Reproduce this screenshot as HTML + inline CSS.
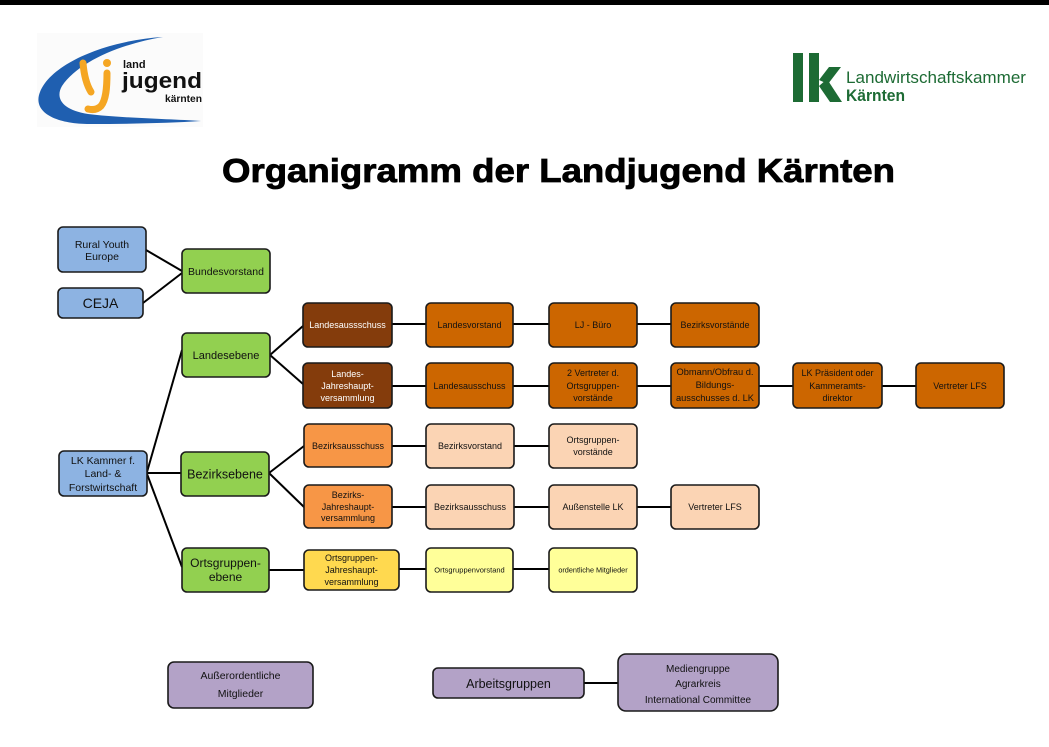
<!DOCTYPE html>
<html>
<head>
<meta charset="utf-8">
<style>
html,body{margin:0;padding:0;background:#fff;}
svg{display:block;}
text{font-family:"Liberation Sans","DejaVu Sans",sans-serif;}
</style>
</head>
<body>
<svg width="1049" height="747" viewBox="0 0 1049 747" xmlns="http://www.w3.org/2000/svg">
<rect x="0" y="0" width="1049" height="747" fill="#fff"/>
<rect x="0" y="0" width="1049" height="5" fill="#000"/>

<!-- Left logo -->
<rect x="37" y="33" width="166" height="94" fill="#fbfbfb"/>
<path d="M163,37 C110,40 52,62 40,92 C32,112 55,124 90,124 C130,124 170,123 201,121 C170,119 120,118 88,114 C62,110 55,98 62,86 C78,62 120,44 163,37 Z" fill="#1f5fb0"/>
<path d="M83,63 C84,75 86,84 91,92" stroke="#f5a623" stroke-width="7" stroke-linecap="round" fill="none"/>
<circle cx="107" cy="63" r="4" fill="#f5a623"/>
<path d="M107,73 C107,88 106,100 101,106 C97,110 92,110 88,109" stroke="#f5a623" stroke-width="7" stroke-linecap="round" fill="none"/>
<text x="123" y="68" font-size="11" font-weight="bold" fill="#111">land</text>
<text x="122" y="88" font-size="22" font-weight="bold" fill="#111" textLength="80" lengthAdjust="spacingAndGlyphs">jugend</text>
<text x="165" y="102" font-size="10" font-weight="bold" fill="#111" textLength="37" lengthAdjust="spacingAndGlyphs">kärnten</text>

<!-- Right logo -->
<g fill="#1d6b34">
<rect x="793" y="53" width="10" height="49"/>
<rect x="809" y="53" width="10" height="49"/>
<polygon points="819,80 829,67 841,67 828,84"/>
<polygon points="819,86 827,79 842,102 830,102"/>
</g>
<text x="846" y="83" font-size="17" fill="#1d6b34" textLength="180" lengthAdjust="spacingAndGlyphs">Landwirtschaftskammer</text>
<text x="846" y="101" font-size="17" font-weight="bold" fill="#1d6b34" textLength="59" lengthAdjust="spacingAndGlyphs">Kärnten</text>

<!-- Title -->
<text x="222" y="182" font-size="33" font-weight="bold" fill="#000" stroke="#000" stroke-width="0.8" textLength="673" lengthAdjust="spacingAndGlyphs">Organigramm der Landjugend Kärnten</text>

<!-- Connectors -->
<g stroke="#000" stroke-width="2" fill="none">
<line x1="146" y1="250" x2="182" y2="271"/>
<line x1="143" y1="303" x2="182" y2="273"/>
<line x1="147" y1="472" x2="182" y2="350"/>
<line x1="147" y1="473" x2="181" y2="473"/>
<line x1="147" y1="474" x2="182" y2="567"/>
<line x1="270" y1="355" x2="303" y2="326"/>
<line x1="270" y1="355" x2="303" y2="384"/>
<line x1="269" y1="473" x2="304" y2="446"/>
<line x1="269" y1="473" x2="304" y2="507"/>
<line x1="269" y1="570" x2="304" y2="570"/>
<line x1="392" y1="324" x2="426" y2="324"/>
<line x1="513" y1="324" x2="549" y2="324"/>
<line x1="637" y1="324" x2="671" y2="324"/>
<line x1="392" y1="386" x2="426" y2="386"/>
<line x1="513" y1="386" x2="549" y2="386"/>
<line x1="637" y1="386" x2="671" y2="386"/>
<line x1="759" y1="386" x2="793" y2="386"/>
<line x1="882" y1="386" x2="916" y2="386"/>
<line x1="392" y1="446" x2="426" y2="446"/>
<line x1="514" y1="446" x2="549" y2="446"/>
<line x1="392" y1="507" x2="426" y2="507"/>
<line x1="514" y1="507" x2="549" y2="507"/>
<line x1="637" y1="507" x2="671" y2="507"/>
<line x1="399" y1="569" x2="426" y2="569"/>
<line x1="513" y1="569" x2="549" y2="569"/>
<line x1="584" y1="683" x2="618" y2="683"/>
</g>

<!-- Boxes -->
<g stroke="#1a1a1a" stroke-width="1.6">
<rect x="58" y="227" width="88" height="45" rx="5" fill="#8db3e2"/>
<rect x="58" y="288" width="85" height="30" rx="5" fill="#8db3e2"/>
<rect x="59" y="451" width="88" height="45" rx="5" fill="#8db3e2"/>
<rect x="182" y="249" width="88" height="44" rx="5" fill="#92d050"/>
<rect x="182" y="333" width="88" height="44" rx="5" fill="#92d050"/>
<rect x="181" y="452" width="88" height="44" rx="5" fill="#92d050"/>
<rect x="182" y="548" width="87" height="44" rx="5" fill="#92d050"/>

<rect x="303" y="303" width="89" height="44" rx="5" fill="#843c0c"/>
<rect x="303" y="363" width="89" height="45" rx="5" fill="#843c0c"/>

<rect x="426" y="303" width="87" height="44" rx="5" fill="#cc6600"/>
<rect x="549" y="303" width="88" height="44" rx="5" fill="#cc6600"/>
<rect x="671" y="303" width="88" height="44" rx="5" fill="#cc6600"/>
<rect x="426" y="363" width="87" height="45" rx="5" fill="#cc6600"/>
<rect x="549" y="363" width="88" height="45" rx="5" fill="#cc6600"/>
<rect x="671" y="363" width="88" height="45" rx="5" fill="#cc6600"/>
<rect x="793" y="363" width="89" height="45" rx="5" fill="#cc6600"/>
<rect x="916" y="363" width="88" height="45" rx="5" fill="#cc6600"/>

<rect x="304" y="424" width="88" height="43" rx="5" fill="#f79646"/>
<rect x="304" y="485" width="88" height="43" rx="5" fill="#f79646"/>

<rect x="426" y="424" width="88" height="44" rx="5" fill="#fbd4b4"/>
<rect x="549" y="424" width="88" height="44" rx="5" fill="#fbd4b4"/>
<rect x="426" y="485" width="88" height="44" rx="5" fill="#fbd4b4"/>
<rect x="549" y="485" width="88" height="44" rx="5" fill="#fbd4b4"/>
<rect x="671" y="485" width="88" height="44" rx="5" fill="#fbd4b4"/>

<rect x="304" y="550" width="95" height="40" rx="5" fill="#ffd94f"/>
<rect x="426" y="548" width="87" height="44" rx="5" fill="#ffff99"/>
<rect x="549" y="548" width="88" height="44" rx="5" fill="#ffff99"/>

<rect x="168" y="662" width="145" height="46" rx="6" fill="#b3a2c7"/>
<rect x="433" y="668" width="151" height="30" rx="5" fill="#b3a2c7"/>
<rect x="618" y="654" width="160" height="57" rx="8" fill="#b3a2c7"/>
</g>

<!-- Labels -->
<g text-anchor="middle" fill="#111">
<text x="102" y="248" font-size="10.5">Rural Youth</text>
<text x="102" y="260" font-size="10.5">Europe</text>
<text x="100.5" y="308" font-size="14">CEJA</text>
<text x="103" y="464" font-size="10.5">LK Kammer f.</text>
<text x="103" y="477" font-size="10.5">Land- &amp;</text>
<text x="103" y="491" font-size="10.5">Forstwirtschaft</text>

<text x="226" y="275" font-size="10.5">Bundesvorstand</text>
<text x="226" y="359" font-size="11">Landesebene</text>
<text x="225" y="478.5" font-size="12.5">Bezirksebene</text>
<text x="225.5" y="567" font-size="12">Ortsgruppen-</text>
<text x="225.5" y="581" font-size="12">ebene</text>

<g fill="#fff" font-size="9">
<text x="347.5" y="328">Landesaussschuss</text>
<text x="347.5" y="377">Landes-</text>
<text x="347.5" y="389">Jahreshaupt-</text>
<text x="347.5" y="401">versammlung</text>
</g>

<g font-size="9">
<text x="469.5" y="328">Landesvorstand</text>
<text x="593" y="328">LJ - Büro</text>
<text x="715" y="328">Bezirksvorstände</text>
<text x="469.5" y="389">Landesausschuss</text>
<text x="593" y="376">2 Vertreter d.</text>
<text x="593" y="389">Ortsgruppen-</text>
<text x="593" y="401">vorstände</text>
<text x="715" y="375" font-size="9.3">Obmann/Obfrau d.</text>
<text x="715" y="388" font-size="9.3">Bildungs-</text>
<text x="715" y="401" font-size="9.3">ausschusses d. LK</text>
<text x="837.5" y="376">LK Präsident oder</text>
<text x="837.5" y="389">Kammeramts-</text>
<text x="837.5" y="401">direktor</text>
<text x="960" y="389">Vertreter LFS</text>

<text x="348" y="449">Bezirksausschuss</text>
<text x="348" y="498">Bezirks-</text>
<text x="348" y="510">Jahreshaupt-</text>
<text x="348" y="521">versammlung</text>

<text x="470" y="449">Bezirksvorstand</text>
<text x="593" y="443">Ortsgruppen-</text>
<text x="593" y="455">vorstände</text>
<text x="470" y="510">Bezirksausschuss</text>
<text x="593" y="510">Außenstelle LK</text>
<text x="715" y="510">Vertreter LFS</text>

<text x="351.5" y="561">Ortsgruppen-</text>
<text x="351.5" y="573">Jahreshaupt-</text>
<text x="351.5" y="585">versammlung</text>
</g>
<text x="469.5" y="572.5" font-size="7.5">Ortsgruppenvorstand</text>
<text x="593" y="572.5" font-size="7.3">ordentliche Mitglieder</text>

<text x="240.5" y="679" font-size="10.5">Außerordentliche</text>
<text x="240.5" y="697" font-size="10.5">Mitglieder</text>
<text x="508.5" y="688" font-size="12.5">Arbeitsgruppen</text>
<text x="698" y="672" font-size="10">Mediengruppe</text>
<text x="698" y="687" font-size="10">Agrarkreis</text>
<text x="698" y="703" font-size="10">International Committee</text>
</g>
</svg>
</body>
</html>
